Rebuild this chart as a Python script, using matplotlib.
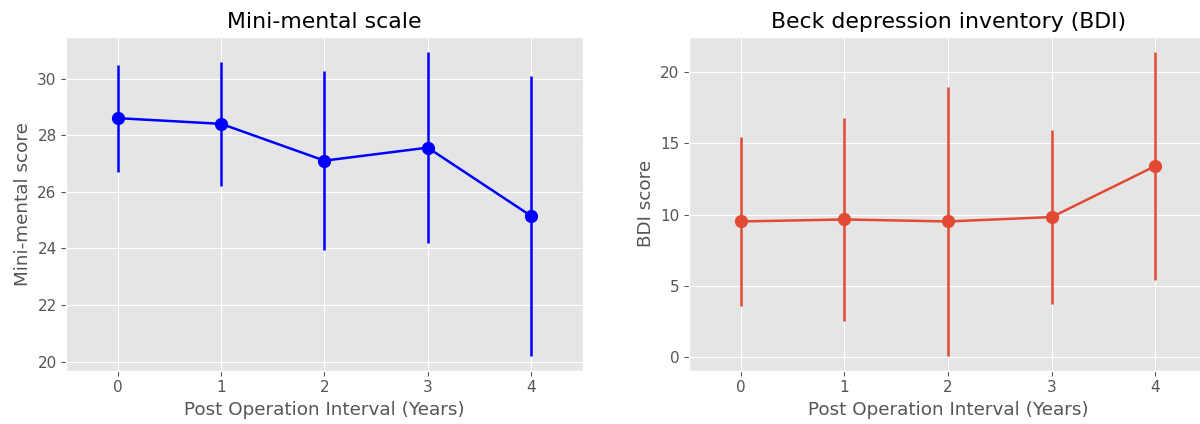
import matplotlib
matplotlib.use("Agg")
import matplotlib.pyplot as plt

years = [0, 1, 2, 3, 4]
mmse_mean = [28.6, 28.4, 27.1, 27.56, 25.15]
mmse_err = [1.89, 2.18, 3.16, 3.38, 4.93]
bdi_mean = [9.53, 9.67, 9.53, 9.84, 13.42]
bdi_err = [5.9, 7.1, 9.4, 6.08, 8.0]

plt.style.use("ggplot")
fig = plt.figure(figsize=(12, 4.24), dpi=100)
ax1 = fig.add_axes([0.0553, 0.1257, 0.4302, 0.7877])
ax2 = fig.add_axes([0.5742, 0.1257, 0.4318, 0.7877])

ax1.errorbar(years, mmse_mean, yerr=mmse_err, color="#0000ff", marker="o",
             markersize=8.5, linewidth=1.8, elinewidth=1.8)
ax1.set_title("Mini-mental scale", fontsize=15.8)
ax1.set_ylabel("Mini-mental score", fontsize=13.2)
ax1.set_xlabel("Post Operation Interval (Years)", fontsize=13.2)

ax2.errorbar(years, bdi_mean, yerr=bdi_err, color="#E24A33", marker="o",
             markersize=8.5, linewidth=1.8, elinewidth=1.8)
ax2.set_title("Beck depression inventory (BDI)", fontsize=15.8)
ax2.set_ylabel("BDI score", fontsize=13.2)
ax2.set_xlabel("Post Operation Interval (Years)", fontsize=13.2)

for ax in (ax1, ax2):
    ax.set_xlim(-0.5, 4.5)
    ax.set_xticks(years)
    ax.tick_params(labelsize=11)
ax1.set_yticks([20, 22, 24, 26, 28, 30])
ax2.set_yticks([0, 5, 10, 15, 20])

fig.savefig("out.png", dpi=100)
